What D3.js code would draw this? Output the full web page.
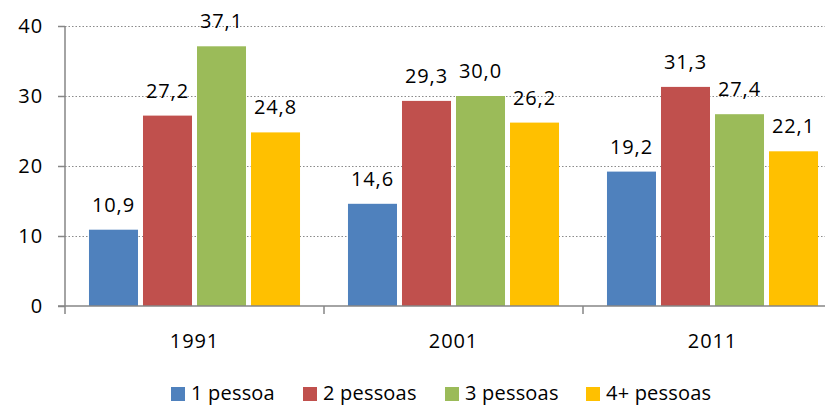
<!DOCTYPE html>
<html><head><meta charset="utf-8">
<script src="https://cdn.jsdelivr.net/npm/d3@7"></script>
<style>
html,body{margin:0;padding:0;background:#fff;}
svg{display:block;font-family:"Open Sans",sans-serif;}
svg text{letter-spacing:0.9px;}
svg text.leg{letter-spacing:0.2px;}
</style></head>
<body>
<svg id="c" width="825" height="406"></svg>
<script>
const years = ["1991", "2001", "2011"];
const seriesNames = ["1 pessoa", "2 pessoas", "3 pessoas", "4+ pessoas"];
const s1 = [10.9, 14.6, 19.2];
const s2 = [27.2, 29.3, 31.3];
const s3 = [37.1, 30.0, 27.4];
const s4 = [24.8, 26.2, 22.1];
const yTicks = [0, 10, 20, 30, 40];
const colors = ["#4F81BD", "#C0504D", "#9BBB59", "#FFC000"];

const seriesValues = [s1, s2, s3, s4];
const svg = d3.select("#c");
const fs = "20px";

const x = d3.scaleBand().domain(years).range([65, 842]).paddingInner(0).paddingOuter(0);
const xi = d3.scaleBand().domain(seriesNames).range([0, x.bandwidth()]).paddingInner(5/54).paddingOuter(0.444);
const y = d3.scaleLinear().domain([0, 40]).range([306, 26]);

// gridlines
svg.append("g").selectAll("line").data(yTicks.filter(d => d > 0)).join("line")
  .attr("x1", 65).attr("x2", 825)
  .attr("y1", d => Math.round(y(d)) + 0.5).attr("y2", d => Math.round(y(d)) + 0.5)
  .attr("stroke", "#8a8a8a").attr("stroke-width", 1.2).attr("stroke-dasharray", "1.5,2");

// bars
const data = [];
years.forEach((yr, i) => seriesNames.forEach((s, j) => data.push({yr, s, j, v: seriesValues[j][i]})));
const g = svg.append("g");
g.selectAll("rect").data(data).join("rect")
  .attr("x", d => x(d.yr) + xi(d.s))
  .attr("width", xi.bandwidth())
  .attr("y", d => y(d.v))
  .attr("height", d => y(0) - y(d.v))
  .attr("fill", d => colors[d.j]);

// value labels
g.selectAll("text").data(data).join("text")
  .attr("x", d => x(d.yr) + xi(d.s) + xi.bandwidth() / 2)
  .attr("y", d => y(d.v) - 18)
  .attr("text-anchor", "middle")
  .attr("font-size", fs).attr("fill", "#000")
  .text(d => d3.format(".1f")(d.v).replace(".", ","));

// y axis
const yAxis = svg.append("g").attr("transform", "translate(65,0)")
  .call(d3.axisLeft(y).tickValues(yTicks).tickSize(7).tickPadding(15).tickFormat(d3.format("d")));
yAxis.select(".domain").attr("stroke", "#868686").attr("stroke-width", 1.5).attr("d", "M0,26V306");
yAxis.selectAll(".tick line").attr("stroke", "#868686").attr("stroke-width", 1.5);
yAxis.selectAll("text").attr("font-size", fs).attr("font-family", "Open Sans").attr("fill", "#000");

// x axis
const xAxis = svg.append("g").attr("transform", "translate(0,306)");
xAxis.append("line").attr("x1", 58).attr("x2", 825).attr("y1", 0).attr("y2", 0)
  .attr("stroke", "#868686").attr("stroke-width", 1.5);
xAxis.selectAll("line.t").data(years.concat(["end"])).join("line").attr("class", "t")
  .attr("x1", (d, i) => 65 + i * x.bandwidth()).attr("x2", (d, i) => 65 + i * x.bandwidth())
  .attr("y1", 0).attr("y2", 8).attr("stroke", "#868686").attr("stroke-width", 1.5);
xAxis.selectAll("text").data(years).join("text")
  .attr("x", d => x(d) + x.bandwidth() / 2).attr("y", 42)
  .attr("text-anchor", "middle").attr("font-size", fs).text(d => d);

// legend
const legX = [171, 303, 445, 586];
const leg = svg.append("g");
seriesNames.forEach((s, j) => {
  leg.append("rect").attr("x", legX[j]).attr("y", 387).attr("width", 14).attr("height", 14).attr("fill", colors[j]);
  leg.append("text").attr("class", "leg").attr("x", legX[j] + 20).attr("y", 400).attr("font-size", fs).text(s);
});
</script>
</body></html>
